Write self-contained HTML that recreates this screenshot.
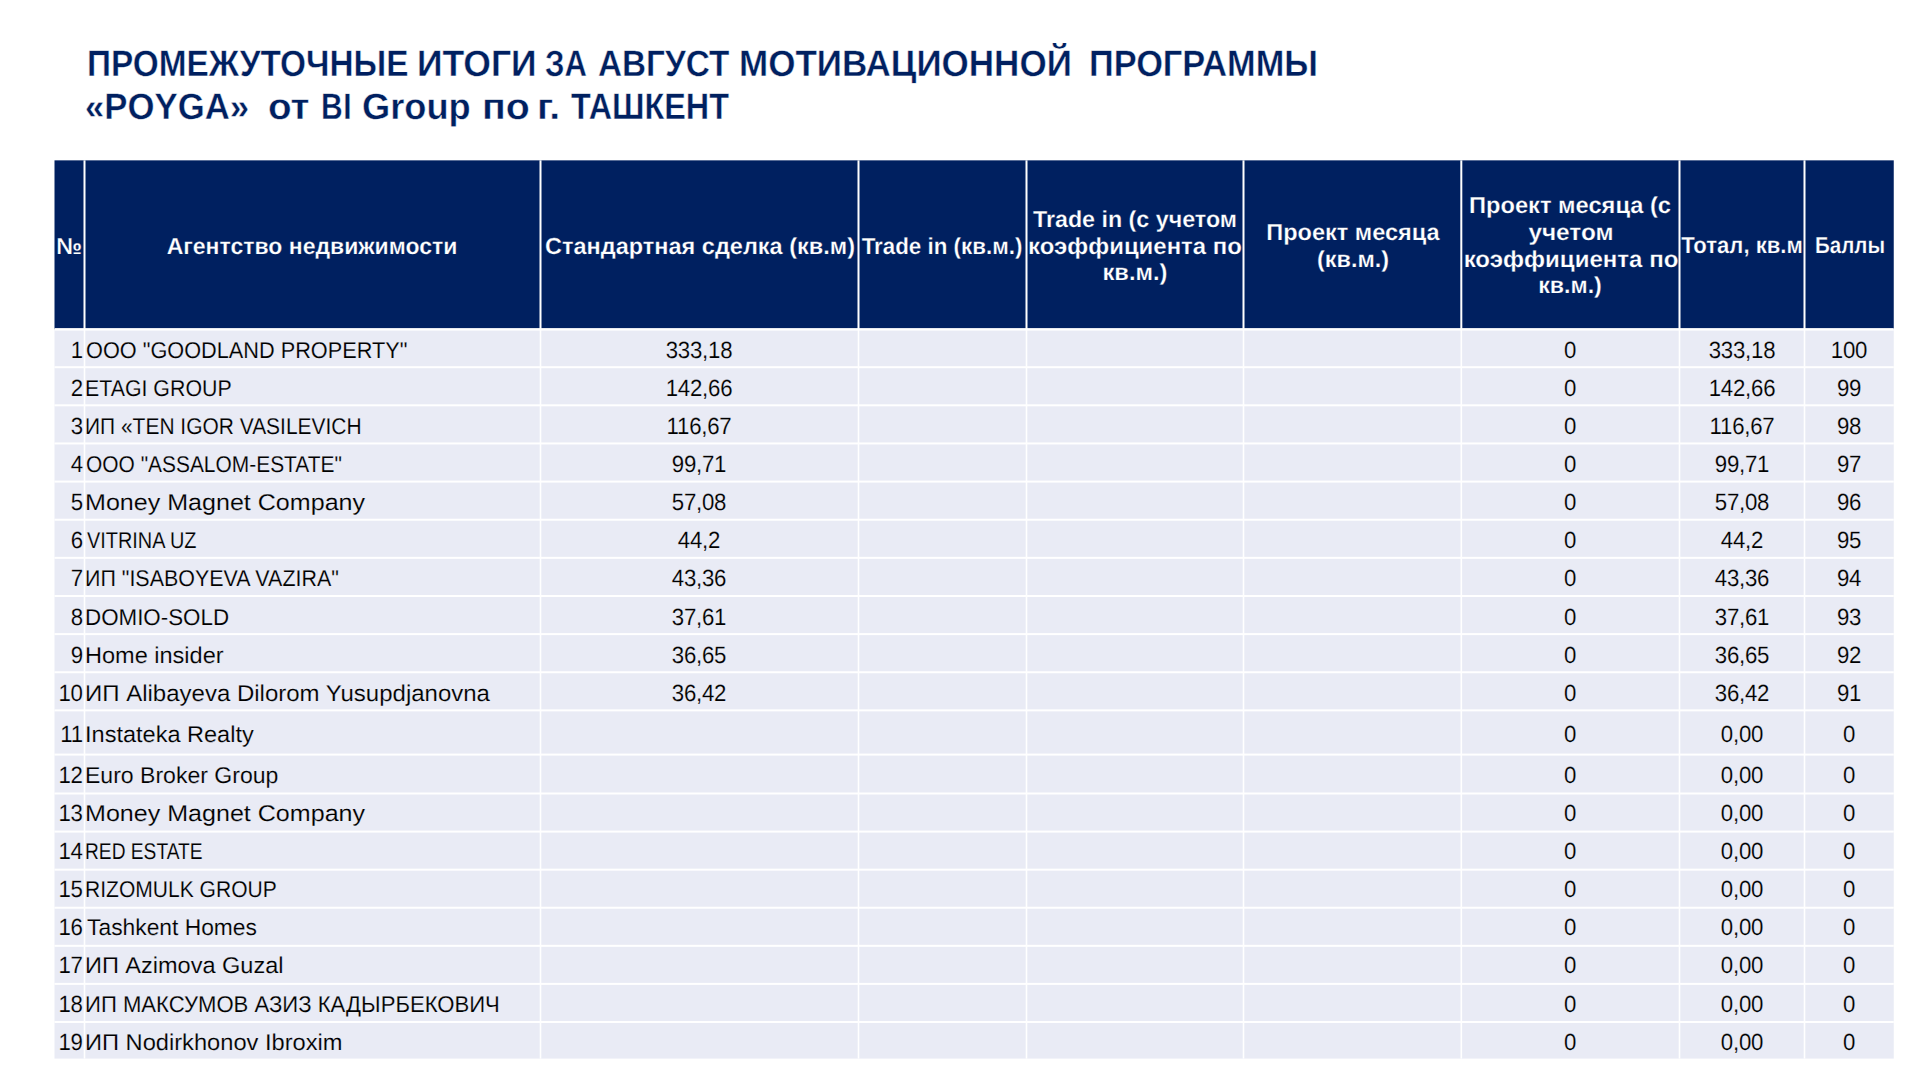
<!DOCTYPE html>
<html lang="ru"><head><meta charset="utf-8"><title>POYGA — промежуточные итоги</title>
<style>
html,body{margin:0;padding:0;background:#fff}
body{width:1920px;height:1080px;overflow:hidden;position:relative;font-family:"Liberation Sans",sans-serif}
#grid{position:absolute;left:0;top:0}
h1{margin:0;font-size:inherit;font-weight:inherit}
.t{position:absolute;white-space:pre;margin:0;text-rendering:geometricPrecision}
.ti{color:#002060;font-weight:bold;font-size:36.6px;line-height:41px;-webkit-text-stroke:0.4px #fff}
.h{color:#fff;font-weight:bold;font-size:23.2px;line-height:26px;-webkit-text-stroke:0.25px #002060}
.num{font-size:23.5px !important;line-height:26px !important}
.b{color:#000;font-size:22.8px;line-height:26px;-webkit-text-stroke:0.15px #E9EBF5}

</style></head><body>
<svg id="grid" width="1920" height="1080" viewBox="0 0 1920 1080">
<rect x="54.5" y="160.35" width="1839.25" height="169.00" fill="#002060"/>
<rect x="54.5" y="329.35" width="1839.25" height="729.25" fill="#E9EBF5"/>
<rect x="54.5" y="328.10" width="1839.25" height="2.5" fill="#fff"/>
<rect x="54.5" y="366.20" width="1839.25" height="2" fill="#fff"/>
<rect x="54.5" y="404.33" width="1839.25" height="2" fill="#fff"/>
<rect x="54.5" y="442.46" width="1839.25" height="2" fill="#fff"/>
<rect x="54.5" y="480.59" width="1839.25" height="2" fill="#fff"/>
<rect x="54.5" y="518.72" width="1839.25" height="2" fill="#fff"/>
<rect x="54.5" y="556.85" width="1839.25" height="2" fill="#fff"/>
<rect x="54.5" y="594.98" width="1839.25" height="2" fill="#fff"/>
<rect x="54.5" y="633.11" width="1839.25" height="2" fill="#fff"/>
<rect x="54.5" y="671.24" width="1839.25" height="2" fill="#fff"/>
<rect x="54.5" y="709.37" width="1839.25" height="2" fill="#fff"/>
<rect x="54.5" y="753.60" width="1839.25" height="2" fill="#fff"/>
<rect x="54.5" y="792.50" width="1839.25" height="2" fill="#fff"/>
<rect x="54.5" y="830.58" width="1839.25" height="2" fill="#fff"/>
<rect x="54.5" y="868.66" width="1839.25" height="2" fill="#fff"/>
<rect x="54.5" y="906.74" width="1839.25" height="2" fill="#fff"/>
<rect x="54.5" y="944.82" width="1839.25" height="2" fill="#fff"/>
<rect x="54.5" y="982.90" width="1839.25" height="2" fill="#fff"/>
<rect x="54.5" y="1020.98" width="1839.25" height="2" fill="#fff"/>
<rect x="83.50" y="160.35" width="2" height="169.00" fill="#fff"/>
<rect x="83.70" y="329.35" width="1.6" height="729.25" fill="#fff"/>
<rect x="539.50" y="160.35" width="2" height="169.00" fill="#fff"/>
<rect x="539.70" y="329.35" width="1.6" height="729.25" fill="#fff"/>
<rect x="857.50" y="160.35" width="2" height="169.00" fill="#fff"/>
<rect x="857.70" y="329.35" width="1.6" height="729.25" fill="#fff"/>
<rect x="1025.50" y="160.35" width="2" height="169.00" fill="#fff"/>
<rect x="1025.70" y="329.35" width="1.6" height="729.25" fill="#fff"/>
<rect x="1242.50" y="160.35" width="2" height="169.00" fill="#fff"/>
<rect x="1242.70" y="329.35" width="1.6" height="729.25" fill="#fff"/>
<rect x="1460.30" y="160.35" width="2" height="169.00" fill="#fff"/>
<rect x="1460.50" y="329.35" width="1.6" height="729.25" fill="#fff"/>
<rect x="1678.50" y="160.35" width="2" height="169.00" fill="#fff"/>
<rect x="1678.70" y="329.35" width="1.6" height="729.25" fill="#fff"/>
<rect x="1803.50" y="160.35" width="2" height="169.00" fill="#fff"/>
<rect x="1803.70" y="329.35" width="1.6" height="729.25" fill="#fff"/>
</svg>
<h1>
<span class="t ti" id="t0" style="top:42.70px;left:86.50px;transform-origin:0 50%;transform:scaleX(0.9121);">ПРОМЕЖУТОЧНЫЕ</span>
<span class="t ti" id="t1" style="top:42.70px;left:416.50px;transform-origin:0 50%;transform:scaleX(0.9712);">ИТОГИ</span>
<span class="t ti" id="t2" style="top:42.70px;left:544.50px;transform-origin:0 50%;transform:scaleX(0.8484);">ЗА</span>
<span class="t ti" id="t3" style="top:42.70px;left:597.50px;transform-origin:0 50%;transform:scaleX(0.9106);">АВГУСТ</span>
<span class="t ti" id="t4" style="top:42.70px;left:739.00px;transform-origin:0 50%;transform:scaleX(0.9575);">МОТИВАЦИОННОЙ</span>
<span class="t ti" id="t5" style="top:42.70px;left:1088.50px;transform-origin:0 50%;transform:scaleX(0.9390);">ПРОГРАММЫ</span>
<span class="t ti" id="t6" style="top:85.75px;left:84.50px;transform-origin:0 50%;transform:scaleX(0.9497);">«POYGA»</span>
<span class="t ti" id="t7" style="top:85.75px;left:268.00px;transform-origin:0 50%;transform:scaleX(1.0556);">от</span>
<span class="t ti" id="t8" style="top:85.75px;left:320.50px;transform-origin:0 50%;transform:scaleX(0.8200);letter-spacing:0.750px;">BI</span>
<span class="t ti" id="t9" style="top:85.75px;left:361.50px;transform-origin:0 50%;transform:scaleX(0.9906);">Group</span>
<span class="t ti" id="t10" style="top:85.75px;left:481.50px;transform-origin:0 50%;transform:scaleX(1.0750);">по</span>
<span class="t ti" id="t11" style="top:85.75px;left:536.50px;transform-origin:0 50%;transform:scaleX(1.0686);">г.</span>
<span class="t ti" id="t12" style="top:85.75px;left:570.70px;transform-origin:0 50%;transform:scaleX(0.8836);">ТАШКЕНТ</span>
</h1>
<section class="table">
<div class="thead">
<div class="th">
<div class="t h" id="h0_0" style="top:232.90px;left:69.25px;transform:translateX(-50%);">№</div>
</div>
<div class="th">
<div class="t h" id="h1_0" style="top:232.90px;left:312.38px;transform:translateX(-50%) scaleX(0.9914);">Агентство недвижимости</div>
</div>
<div class="th">
<div class="t h" id="h2_0" style="top:233.00px;left:699.55px;transform:translateX(-50%) scaleX(1.0139);">Стандартная сделка (кв.м)</div>
</div>
<div class="th">
<div class="t h" id="h3_0" style="top:233.00px;left:942.25px;transform:translateX(-50%) scaleX(0.9637);">Trade in (кв.м.)</div>
</div>
<div class="th">
<div class="t h" id="h4_0" style="top:205.50px;left:1135.00px;transform:translateX(-50%) scaleX(1.0030);">Trade in (с учетом</div>
<div class="t h" id="h4_1" style="top:232.50px;left:1134.95px;transform:translateX(-50%) scaleX(1.0324);">коэффициента по</div>
<div class="t h" id="h4_2" style="top:259.20px;left:1135.25px;transform:translateX(-50%) scaleX(1.0209);">кв.м.)</div>
</div>
<div class="th">
<div class="t h" id="h5_0" style="top:219.00px;left:1352.65px;transform:translateX(-50%) scaleX(1.0143);">Проект месяца</div>
<div class="t h" id="h5_1" style="top:245.70px;left:1353.05px;transform:translateX(-50%) scaleX(1.0102);">(кв.м.)</div>
</div>
<div class="th">
<div class="t h" id="h6_0" style="top:192.00px;left:1570.00px;transform:translateX(-50%) scaleX(1.0207);">Проект месяца (с</div>
<div class="t h" id="h6_1" style="top:219.00px;left:1571.00px;transform:translateX(-50%) scaleX(1.0517);">учетом</div>
<div class="t h" id="h6_2" style="top:245.75px;left:1570.62px;transform:translateX(-50%) scaleX(1.0368);">коэффициента по</div>
<div class="t h" id="h6_3" style="top:272.25px;left:1570.00px;transform:translateX(-50%);">кв.м.)</div>
</div>
<div class="th">
<div class="t h" id="h7_0" style="top:231.50px;left:1742.00px;transform:translateX(-50%) scaleX(0.9519);">Тотал, кв.м</div>
</div>
<div class="th">
<div class="t h" id="h8_0" style="top:231.50px;left:1849.62px;transform:translateX(-50%) scaleX(0.8879);">Баллы</div>
</div>
</div>
<div class="tbody">
<div class="tr">
<div class="t b num" id="n0" style="top:336.70px;right:1837.00px;margin-right:0.25px;transform-origin:100% 50%;transform:scaleX(0.9450);letter-spacing:-0.250px;">1</div>
<div class="t b" id="a0" style="top:336.70px;left:86.10px;transform-origin:0 50%;transform:scaleX(0.9523);">ООО "GOODLAND PROPERTY"</div>
<div class="t b num" id="c0_2" style="top:336.70px;left:699.50px;transform:translateX(-50%) scaleX(0.9450);margin-left:-0.12px;letter-spacing:-0.250px;">333,18</div>
<div class="t b num" id="c0_6" style="top:336.70px;left:1570.40px;transform:translateX(-50%) scaleX(0.9450);margin-left:-0.12px;letter-spacing:-0.250px;">0</div>
<div class="t b num" id="c0_7" style="top:336.70px;left:1742.00px;transform:translateX(-50%) scaleX(0.9450);margin-left:-0.12px;letter-spacing:-0.250px;">333,18</div>
<div class="t b num" id="c0_8" style="top:336.70px;left:1849.12px;transform:translateX(-50%) scaleX(0.9450);margin-left:-0.12px;letter-spacing:-0.250px;">100</div>
</div>
<div class="tr">
<div class="t b num" id="n1" style="top:374.82px;right:1837.00px;margin-right:0.25px;transform-origin:100% 50%;transform:scaleX(0.9450);letter-spacing:-0.250px;">2</div>
<div class="t b" id="a1" style="top:374.82px;left:85.10px;transform-origin:0 50%;transform:scaleX(0.9360);">ETAGI GROUP</div>
<div class="t b num" id="c1_2" style="top:374.82px;left:699.50px;transform:translateX(-50%) scaleX(0.9450);margin-left:-0.12px;letter-spacing:-0.250px;">142,66</div>
<div class="t b num" id="c1_6" style="top:374.82px;left:1570.40px;transform:translateX(-50%) scaleX(0.9450);margin-left:-0.12px;letter-spacing:-0.250px;">0</div>
<div class="t b num" id="c1_7" style="top:374.82px;left:1742.00px;transform:translateX(-50%) scaleX(0.9450);margin-left:-0.12px;letter-spacing:-0.250px;">142,66</div>
<div class="t b num" id="c1_8" style="top:374.82px;left:1849.12px;transform:translateX(-50%) scaleX(0.9450);margin-left:-0.12px;letter-spacing:-0.250px;">99</div>
</div>
<div class="tr">
<div class="t b num" id="n2" style="top:412.94px;right:1837.00px;margin-right:0.25px;transform-origin:100% 50%;transform:scaleX(0.9450);letter-spacing:-0.250px;">3</div>
<div class="t b" id="a2" style="top:412.94px;left:85.10px;transform-origin:0 50%;transform:scaleX(0.9192);">ИП «TEN IGOR VASILEVICH</div>
<div class="t b num" id="c2_2" style="top:412.94px;left:699.50px;transform:translateX(-50%) scaleX(0.9450);margin-left:-0.12px;letter-spacing:-0.250px;">116,67</div>
<div class="t b num" id="c2_6" style="top:412.94px;left:1570.40px;transform:translateX(-50%) scaleX(0.9450);margin-left:-0.12px;letter-spacing:-0.250px;">0</div>
<div class="t b num" id="c2_7" style="top:412.94px;left:1742.00px;transform:translateX(-50%) scaleX(0.9450);margin-left:-0.12px;letter-spacing:-0.250px;">116,67</div>
<div class="t b num" id="c2_8" style="top:412.94px;left:1849.12px;transform:translateX(-50%) scaleX(0.9450);margin-left:-0.12px;letter-spacing:-0.250px;">98</div>
</div>
<div class="tr">
<div class="t b num" id="n3" style="top:451.06px;right:1837.00px;margin-right:0.25px;transform-origin:100% 50%;transform:scaleX(0.9450);letter-spacing:-0.250px;">4</div>
<div class="t b" id="a3" style="top:451.06px;left:86.10px;transform-origin:0 50%;transform:scaleX(0.9177);">ООО "ASSALOM-ESTATE"</div>
<div class="t b num" id="c3_2" style="top:451.06px;left:699.50px;transform:translateX(-50%) scaleX(0.9450);margin-left:-0.12px;letter-spacing:-0.250px;">99,71</div>
<div class="t b num" id="c3_6" style="top:451.06px;left:1570.40px;transform:translateX(-50%) scaleX(0.9450);margin-left:-0.12px;letter-spacing:-0.250px;">0</div>
<div class="t b num" id="c3_7" style="top:451.06px;left:1742.00px;transform:translateX(-50%) scaleX(0.9450);margin-left:-0.12px;letter-spacing:-0.250px;">99,71</div>
<div class="t b num" id="c3_8" style="top:451.06px;left:1849.12px;transform:translateX(-50%) scaleX(0.9450);margin-left:-0.12px;letter-spacing:-0.250px;">97</div>
</div>
<div class="tr">
<div class="t b num" id="n4" style="top:489.18px;right:1837.00px;margin-right:0.25px;transform-origin:100% 50%;transform:scaleX(0.9450);letter-spacing:-0.250px;">5</div>
<div class="t b" id="a4" style="top:489.18px;left:85.10px;transform-origin:0 50%;transform:scaleX(1.1000);letter-spacing:-0.005px;">Money Magnet Company</div>
<div class="t b num" id="c4_2" style="top:489.18px;left:699.50px;transform:translateX(-50%) scaleX(0.9450);margin-left:-0.12px;letter-spacing:-0.250px;">57,08</div>
<div class="t b num" id="c4_6" style="top:489.18px;left:1570.40px;transform:translateX(-50%) scaleX(0.9450);margin-left:-0.12px;letter-spacing:-0.250px;">0</div>
<div class="t b num" id="c4_7" style="top:489.18px;left:1742.00px;transform:translateX(-50%) scaleX(0.9450);margin-left:-0.12px;letter-spacing:-0.250px;">57,08</div>
<div class="t b num" id="c4_8" style="top:489.18px;left:1849.12px;transform:translateX(-50%) scaleX(0.9450);margin-left:-0.12px;letter-spacing:-0.250px;">96</div>
</div>
<div class="tr">
<div class="t b num" id="n5" style="top:527.30px;right:1837.00px;margin-right:0.25px;transform-origin:100% 50%;transform:scaleX(0.9450);letter-spacing:-0.250px;">6</div>
<div class="t b" id="a5" style="top:527.30px;left:87.10px;transform-origin:0 50%;transform:scaleX(0.8727);">VITRINA UZ</div>
<div class="t b num" id="c5_2" style="top:527.30px;left:699.50px;transform:translateX(-50%) scaleX(0.9450);margin-left:-0.12px;letter-spacing:-0.250px;">44,2</div>
<div class="t b num" id="c5_6" style="top:527.30px;left:1570.40px;transform:translateX(-50%) scaleX(0.9450);margin-left:-0.12px;letter-spacing:-0.250px;">0</div>
<div class="t b num" id="c5_7" style="top:527.30px;left:1742.00px;transform:translateX(-50%) scaleX(0.9450);margin-left:-0.12px;letter-spacing:-0.250px;">44,2</div>
<div class="t b num" id="c5_8" style="top:527.30px;left:1849.12px;transform:translateX(-50%) scaleX(0.9450);margin-left:-0.12px;letter-spacing:-0.250px;">95</div>
</div>
<div class="tr">
<div class="t b num" id="n6" style="top:565.42px;right:1837.00px;margin-right:0.25px;transform-origin:100% 50%;transform:scaleX(0.9450);letter-spacing:-0.250px;">7</div>
<div class="t b" id="a6" style="top:565.42px;left:85.10px;transform-origin:0 50%;transform:scaleX(0.9408);">ИП "ISABOYEVA VAZIRA"</div>
<div class="t b num" id="c6_2" style="top:565.42px;left:699.50px;transform:translateX(-50%) scaleX(0.9450);margin-left:-0.12px;letter-spacing:-0.250px;">43,36</div>
<div class="t b num" id="c6_6" style="top:565.42px;left:1570.40px;transform:translateX(-50%) scaleX(0.9450);margin-left:-0.12px;letter-spacing:-0.250px;">0</div>
<div class="t b num" id="c6_7" style="top:565.42px;left:1742.00px;transform:translateX(-50%) scaleX(0.9450);margin-left:-0.12px;letter-spacing:-0.250px;">43,36</div>
<div class="t b num" id="c6_8" style="top:565.42px;left:1849.12px;transform:translateX(-50%) scaleX(0.9450);margin-left:-0.12px;letter-spacing:-0.250px;">94</div>
</div>
<div class="tr">
<div class="t b num" id="n7" style="top:603.54px;right:1837.00px;margin-right:0.25px;transform-origin:100% 50%;transform:scaleX(0.9450);letter-spacing:-0.250px;">8</div>
<div class="t b" id="a7" style="top:603.54px;left:85.10px;transform-origin:0 50%;transform:scaleX(0.9806);">DOMIO-SOLD</div>
<div class="t b num" id="c7_2" style="top:603.54px;left:699.50px;transform:translateX(-50%) scaleX(0.9450);margin-left:-0.12px;letter-spacing:-0.250px;">37,61</div>
<div class="t b num" id="c7_6" style="top:603.54px;left:1570.40px;transform:translateX(-50%) scaleX(0.9450);margin-left:-0.12px;letter-spacing:-0.250px;">0</div>
<div class="t b num" id="c7_7" style="top:603.54px;left:1742.00px;transform:translateX(-50%) scaleX(0.9450);margin-left:-0.12px;letter-spacing:-0.250px;">37,61</div>
<div class="t b num" id="c7_8" style="top:603.54px;left:1849.12px;transform:translateX(-50%) scaleX(0.9450);margin-left:-0.12px;letter-spacing:-0.250px;">93</div>
</div>
<div class="tr">
<div class="t b num" id="n8" style="top:641.66px;right:1837.00px;margin-right:0.25px;transform-origin:100% 50%;transform:scaleX(0.9450);letter-spacing:-0.250px;">9</div>
<div class="t b" id="a8" style="top:641.66px;left:85.10px;transform-origin:0 50%;transform:scaleX(1.0319);">Home insider</div>
<div class="t b num" id="c8_2" style="top:641.66px;left:699.50px;transform:translateX(-50%) scaleX(0.9450);margin-left:-0.12px;letter-spacing:-0.250px;">36,65</div>
<div class="t b num" id="c8_6" style="top:641.66px;left:1570.40px;transform:translateX(-50%) scaleX(0.9450);margin-left:-0.12px;letter-spacing:-0.250px;">0</div>
<div class="t b num" id="c8_7" style="top:641.66px;left:1742.00px;transform:translateX(-50%) scaleX(0.9450);margin-left:-0.12px;letter-spacing:-0.250px;">36,65</div>
<div class="t b num" id="c8_8" style="top:641.66px;left:1849.12px;transform:translateX(-50%) scaleX(0.9450);margin-left:-0.12px;letter-spacing:-0.250px;">92</div>
</div>
<div class="tr">
<div class="t b num" id="n9" style="top:679.78px;right:1837.00px;margin-right:0.25px;transform-origin:100% 50%;transform:scaleX(0.9450);letter-spacing:-0.250px;">10</div>
<div class="t b" id="a9" style="top:679.78px;left:85.10px;transform-origin:0 50%;transform:scaleX(1.0528);">ИП Alibayeva Dilorom Yusupdjanovna</div>
<div class="t b num" id="c9_2" style="top:679.78px;left:699.50px;transform:translateX(-50%) scaleX(0.9450);margin-left:-0.12px;letter-spacing:-0.250px;">36,42</div>
<div class="t b num" id="c9_6" style="top:679.78px;left:1570.40px;transform:translateX(-50%) scaleX(0.9450);margin-left:-0.12px;letter-spacing:-0.250px;">0</div>
<div class="t b num" id="c9_7" style="top:679.78px;left:1742.00px;transform:translateX(-50%) scaleX(0.9450);margin-left:-0.12px;letter-spacing:-0.250px;">36,42</div>
<div class="t b num" id="c9_8" style="top:679.78px;left:1849.12px;transform:translateX(-50%) scaleX(0.9450);margin-left:-0.12px;letter-spacing:-0.250px;">91</div>
</div>
<div class="tr">
<div class="t b num" id="n10" style="top:721.20px;right:1837.00px;margin-right:0.25px;transform-origin:100% 50%;transform:scaleX(0.9450);letter-spacing:-0.250px;">11</div>
<div class="t b" id="a10" style="top:721.20px;left:85.10px;transform-origin:0 50%;transform:scaleX(1.0323);">Instateka Realty</div>
<div class="t b num" id="c10_6" style="top:721.20px;left:1570.40px;transform:translateX(-50%) scaleX(0.9450);margin-left:-0.12px;letter-spacing:-0.250px;">0</div>
<div class="t b num" id="c10_7" style="top:721.20px;left:1742.00px;transform:translateX(-50%) scaleX(0.9450);margin-left:-0.12px;letter-spacing:-0.250px;">0,00</div>
<div class="t b num" id="c10_8" style="top:721.20px;left:1849.12px;transform:translateX(-50%) scaleX(0.9450);margin-left:-0.12px;letter-spacing:-0.250px;">0</div>
</div>
<div class="tr">
<div class="t b num" id="n11" style="top:762.00px;right:1837.00px;margin-right:0.25px;transform-origin:100% 50%;transform:scaleX(0.9450);letter-spacing:-0.250px;">12</div>
<div class="t b" id="a11" style="top:762.00px;left:85.10px;transform-origin:0 50%;transform:scaleX(1.0106);">Euro Broker Group</div>
<div class="t b num" id="c11_6" style="top:762.00px;left:1570.40px;transform:translateX(-50%) scaleX(0.9450);margin-left:-0.12px;letter-spacing:-0.250px;">0</div>
<div class="t b num" id="c11_7" style="top:762.00px;left:1742.00px;transform:translateX(-50%) scaleX(0.9450);margin-left:-0.12px;letter-spacing:-0.250px;">0,00</div>
<div class="t b num" id="c11_8" style="top:762.00px;left:1849.12px;transform:translateX(-50%) scaleX(0.9450);margin-left:-0.12px;letter-spacing:-0.250px;">0</div>
</div>
<div class="tr">
<div class="t b num" id="n12" style="top:799.85px;right:1837.00px;margin-right:0.25px;transform-origin:100% 50%;transform:scaleX(0.9450);letter-spacing:-0.250px;">13</div>
<div class="t b" id="a12" style="top:799.85px;left:85.10px;transform-origin:0 50%;transform:scaleX(1.1000);letter-spacing:-0.005px;">Money Magnet Company</div>
<div class="t b num" id="c12_6" style="top:799.85px;left:1570.40px;transform:translateX(-50%) scaleX(0.9450);margin-left:-0.12px;letter-spacing:-0.250px;">0</div>
<div class="t b num" id="c12_7" style="top:799.85px;left:1742.00px;transform:translateX(-50%) scaleX(0.9450);margin-left:-0.12px;letter-spacing:-0.250px;">0,00</div>
<div class="t b num" id="c12_8" style="top:799.85px;left:1849.12px;transform:translateX(-50%) scaleX(0.9450);margin-left:-0.12px;letter-spacing:-0.250px;">0</div>
</div>
<div class="tr">
<div class="t b num" id="n13" style="top:838.01px;right:1837.00px;margin-right:0.25px;transform-origin:100% 50%;transform:scaleX(0.9450);letter-spacing:-0.250px;">14</div>
<div class="t b" id="a13" style="top:838.01px;left:85.10px;transform-origin:0 50%;transform:scaleX(0.8410);">RED ESTATE</div>
<div class="t b num" id="c13_6" style="top:838.01px;left:1570.40px;transform:translateX(-50%) scaleX(0.9450);margin-left:-0.12px;letter-spacing:-0.250px;">0</div>
<div class="t b num" id="c13_7" style="top:838.01px;left:1742.00px;transform:translateX(-50%) scaleX(0.9450);margin-left:-0.12px;letter-spacing:-0.250px;">0,00</div>
<div class="t b num" id="c13_8" style="top:838.01px;left:1849.12px;transform:translateX(-50%) scaleX(0.9450);margin-left:-0.12px;letter-spacing:-0.250px;">0</div>
</div>
<div class="tr">
<div class="t b num" id="n14" style="top:876.17px;right:1837.00px;margin-right:0.25px;transform-origin:100% 50%;transform:scaleX(0.9450);letter-spacing:-0.250px;">15</div>
<div class="t b" id="a14" style="top:876.17px;left:85.10px;transform-origin:0 50%;transform:scaleX(0.9230);">RIZOMULK GROUP</div>
<div class="t b num" id="c14_6" style="top:876.17px;left:1570.40px;transform:translateX(-50%) scaleX(0.9450);margin-left:-0.12px;letter-spacing:-0.250px;">0</div>
<div class="t b num" id="c14_7" style="top:876.17px;left:1742.00px;transform:translateX(-50%) scaleX(0.9450);margin-left:-0.12px;letter-spacing:-0.250px;">0,00</div>
<div class="t b num" id="c14_8" style="top:876.17px;left:1849.12px;transform:translateX(-50%) scaleX(0.9450);margin-left:-0.12px;letter-spacing:-0.250px;">0</div>
</div>
<div class="tr">
<div class="t b num" id="n15" style="top:914.33px;right:1837.00px;margin-right:0.25px;transform-origin:100% 50%;transform:scaleX(0.9450);letter-spacing:-0.250px;">16</div>
<div class="t b" id="a15" style="top:914.33px;left:87.10px;">Tashkent Homes</div>
<div class="t b num" id="c15_6" style="top:914.33px;left:1570.40px;transform:translateX(-50%) scaleX(0.9450);margin-left:-0.12px;letter-spacing:-0.250px;">0</div>
<div class="t b num" id="c15_7" style="top:914.33px;left:1742.00px;transform:translateX(-50%) scaleX(0.9450);margin-left:-0.12px;letter-spacing:-0.250px;">0,00</div>
<div class="t b num" id="c15_8" style="top:914.33px;left:1849.12px;transform:translateX(-50%) scaleX(0.9450);margin-left:-0.12px;letter-spacing:-0.250px;">0</div>
</div>
<div class="tr">
<div class="t b num" id="n16" style="top:952.49px;right:1837.00px;margin-right:0.25px;transform-origin:100% 50%;transform:scaleX(0.9450);letter-spacing:-0.250px;">17</div>
<div class="t b" id="a16" style="top:952.49px;left:85.10px;transform-origin:0 50%;transform:scaleX(1.0318);">ИП Azimova Guzal</div>
<div class="t b num" id="c16_6" style="top:952.49px;left:1570.40px;transform:translateX(-50%) scaleX(0.9450);margin-left:-0.12px;letter-spacing:-0.250px;">0</div>
<div class="t b num" id="c16_7" style="top:952.49px;left:1742.00px;transform:translateX(-50%) scaleX(0.9450);margin-left:-0.12px;letter-spacing:-0.250px;">0,00</div>
<div class="t b num" id="c16_8" style="top:952.49px;left:1849.12px;transform:translateX(-50%) scaleX(0.9450);margin-left:-0.12px;letter-spacing:-0.250px;">0</div>
</div>
<div class="tr">
<div class="t b num" id="n17" style="top:990.65px;right:1837.00px;margin-right:0.25px;transform-origin:100% 50%;transform:scaleX(0.9450);letter-spacing:-0.250px;">18</div>
<div class="t b" id="a17" style="top:990.65px;left:85.10px;transform-origin:0 50%;transform:scaleX(0.9698);">ИП МАКСУМОВ АЗИЗ КАДЫРБЕКОВИЧ</div>
<div class="t b num" id="c17_6" style="top:990.65px;left:1570.40px;transform:translateX(-50%) scaleX(0.9450);margin-left:-0.12px;letter-spacing:-0.250px;">0</div>
<div class="t b num" id="c17_7" style="top:990.65px;left:1742.00px;transform:translateX(-50%) scaleX(0.9450);margin-left:-0.12px;letter-spacing:-0.250px;">0,00</div>
<div class="t b num" id="c17_8" style="top:990.65px;left:1849.12px;transform:translateX(-50%) scaleX(0.9450);margin-left:-0.12px;letter-spacing:-0.250px;">0</div>
</div>
<div class="tr">
<div class="t b num" id="n18" style="top:1028.81px;right:1837.00px;margin-right:0.25px;transform-origin:100% 50%;transform:scaleX(0.9450);letter-spacing:-0.250px;">19</div>
<div class="t b" id="a18" style="top:1028.81px;left:85.10px;transform-origin:0 50%;transform:scaleX(1.0376);">ИП Nodirkhonov Ibroxim</div>
<div class="t b num" id="c18_6" style="top:1028.81px;left:1570.40px;transform:translateX(-50%) scaleX(0.9450);margin-left:-0.12px;letter-spacing:-0.250px;">0</div>
<div class="t b num" id="c18_7" style="top:1028.81px;left:1742.00px;transform:translateX(-50%) scaleX(0.9450);margin-left:-0.12px;letter-spacing:-0.250px;">0,00</div>
<div class="t b num" id="c18_8" style="top:1028.81px;left:1849.12px;transform:translateX(-50%) scaleX(0.9450);margin-left:-0.12px;letter-spacing:-0.250px;">0</div>
</div>
</div>
</section>
</body></html>
